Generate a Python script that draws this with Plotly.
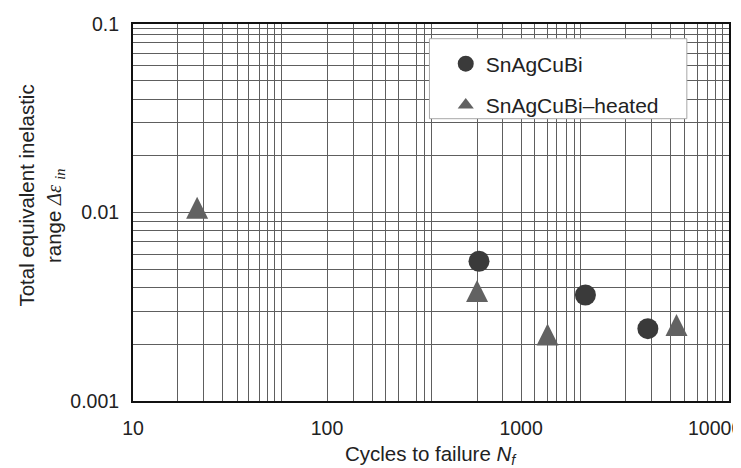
import plotly.graph_objects as go

# ---- data ----
sac_x = [607, 2146, 4503]
sac_y = [0.00551, 0.00365, 0.00242]
heated_x = [21.4, 593, 1369, 6327]
heated_y = [0.0106, 0.00383, 0.00225, 0.00253]

x_major = [10, 100, 1000, 10000]
x_major_text = ["10", "100", "1000", "10000"]
x_minor = [16.9, 23.1, 28.9, 34.5, 39.5, 44.8, 49.5, 53.8, 58.4,
           137.7, 170.6, 201, 233, 290, 318, 347,
           596, 803, 1175, 1361, 1525, 1710, 1874, 2027,
           3450, 4690, 5900, 6920, 8130, 9120, 10940]
y_major = [0.001, 0.01, 0.1]
y_major_text = ["0.001", "0.01", "0.1"]
y_minor = [0.002, 0.003, 0.004, 0.005, 0.006, 0.007, 0.008, 0.009,
           0.02, 0.03, 0.04, 0.05, 0.06, 0.07, 0.08, 0.0877, 0.0944]

FONT = "Liberation Sans, Arial, sans-serif"
GRID = "#5e5e5e"
C_CIRCLE = "#3a3a3a"
C_TRI = "#626262"

fig = go.Figure()
fig.add_trace(go.Scatter(
    x=sac_x, y=sac_y, mode="markers", name="SnAgCuBi", legendgroup="a",
    marker=dict(symbol="circle", size=21, color=C_CIRCLE, line=dict(width=0)),
))
# centred, equal-height triangles for the data
fig.add_trace(go.Scatter(
    x=heated_x, y=heated_y, mode="markers", name="SnAgCuBi\u2013heated", legendgroup="b",
    showlegend=False,
    marker=dict(symbol="arrow-down", size=22, color=C_TRI, angle=180, standoff=11,
                line=dict(width=0)),
))
# legend entry for the triangles
fig.add_trace(go.Scatter(
    x=[None], y=[None], mode="markers", name="SnAgCuBi\u2013heated", legendgroup="b",
    marker=dict(symbol="triangle-up", size=14, color=C_TRI, line=dict(width=0)),
))

L, R, T, B = 125, 19.5, 16, 75
W, H = 741, 468
pw = W - L - R
ph = H - T - B

def px2paper_x(px):
    return (px - L) / pw

def py2paper_y(py):
    return (H - B - py) / ph

fig.update_layout(
    template="none",
    width=W, height=H,
    margin=dict(l=L, r=R, t=T, b=B, pad=0, autoexpand=False),
    paper_bgcolor="white", plot_bgcolor="white",
    font=dict(family=FONT, size=20, color="#222"),
    showlegend=True,
    legend=dict(
        x=px2paper_x(438), y=py2paper_y(35.5), xanchor="left", yanchor="top",
        bgcolor="rgba(0,0,0,0)", borderwidth=0,
        font=dict(family=FONT, size=21, color="#222"),
        traceorder="grouped", tracegroupgap=11,
    ),
    xaxis=dict(
        type="log", range=[1, 4.0716], automargin=False,
        tickmode="array", tickvals=x_major, ticktext=x_major_text,
        ticks="", ticklabelstandoff=9,
        showgrid=True, gridcolor=GRID, gridwidth=1,
        minor=dict(tickmode="array", tickvals=x_minor, showgrid=True,
                   gridcolor=GRID, gridwidth=1, ticks=""),
        showline=True, linecolor="#111", linewidth=2, mirror=True,
        zeroline=False, tickfont=dict(size=19.5, color="#222"),
    ),
    yaxis=dict(
        type="log", range=[-3, -1], automargin=False,
        tickmode="array", tickvals=y_major, ticktext=y_major_text,
        ticks="", ticklabelstandoff=8,
        showgrid=True, gridcolor=GRID, gridwidth=1,
        minor=dict(tickmode="array", tickvals=y_minor, showgrid=True,
                   gridcolor=GRID, gridwidth=1, ticks=""),
        showline=True, linecolor="#111", linewidth=2, mirror=True,
        zeroline=False, tickfont=dict(size=19.5, color="#222"),
    ),
    shapes=[dict(
        type="rect", xref="paper", yref="paper",
        x0=px2paper_x(421.7), x1=px2paper_x(679.3),
        y0=py2paper_y(110.7), y1=py2paper_y(30.7),
        line=dict(color="#a8a8a8", width=1), fillcolor="white", layer="above",
    )],
    annotations=[
        dict(text="Total equivalent inelastic", xref="paper", yref="paper",
             x=px2paper_x(18), y=py2paper_y(187.5), xanchor="center", yanchor="middle",
             textangle=-90, showarrow=False, font=dict(family=FONT, size=20.5, color="#222")),
        dict(text="range <span style=\"font-family:'Liberation Serif'\"><i>\u0394\u03b5</i> <sub><i>in</i></sub></span>",
             xref="paper", yref="paper",
             x=px2paper_x(47), y=py2paper_y(208), xanchor="center", yanchor="middle",
             textangle=-90, showarrow=False, font=dict(family=FONT, size=20.5, color="#222")),
        dict(text="Cycles to failure <i>N<sub>f</sub></i>", xref="paper", yref="paper",
             x=0.5, y=py2paper_y(432), xanchor="center", yanchor="top",
             showarrow=False, font=dict(family=FONT, size=20.5, color="#222")),
    ],
)

fig.write_html("out.html")
